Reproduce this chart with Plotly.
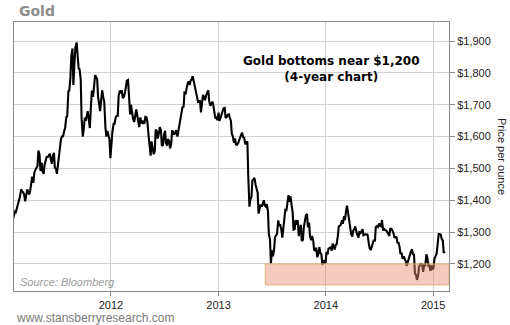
import pandas as pd
import plotly.graph_objects as go

# Gold spot price, USD per ounce, two readings a week (Tuesday, Friday),
# grouped by the year in which each week starts.
gold_2011 = [
    1338, 1350, 1364, 1362, 1375, 1388, 1400, 1410, 1434, 1430,
    1428, 1420, 1397, 1418, 1434, 1428, 1418, 1430,
    1453, 1474, 1455, 1486, 1496, 1504, 1508, 1556,
    1543, 1492, 1518, 1492, 1483, 1511, 1525, 1536, 1536, 1542,
    1546, 1529, 1515, 1539, 1549, 1502, 1499, 1483,
    1515, 1542, 1564, 1594, 1601, 1601, 1618, 1628,
    1661, 1663, 1742, 1744, 1786, 1853, 1877, 1762, 1835, 1880,
    1896, 1858, 1814, 1812, 1780, 1658, 1600, 1622,
    1660, 1650, 1672, 1680, 1650, 1627, 1700, 1745, 1725, 1755,
    1793, 1788, 1780, 1725, 1690, 1680, 1720, 1745,
    1722, 1710, 1630, 1600, 1618, 1605, 1590, 1532,
]
gold_2012 = [
    1600, 1617, 1640, 1640, 1660, 1665, 1665, 1728, 1745, 1740,
    1745, 1721, 1725, 1735, 1758, 1776, 1778, 1708,
    1670, 1700, 1672, 1657, 1646, 1662, 1685, 1669,
    1645, 1630, 1660, 1642, 1650, 1642, 1643, 1662, 1660, 1645,
    1602, 1580, 1540, 1585, 1568, 1545, 1555, 1622,
    1617, 1594, 1610, 1630, 1620, 1571, 1574, 1604,
    1618, 1580, 1572, 1593, 1585, 1563, 1577, 1620, 1614, 1606,
    1613, 1620, 1600, 1617, 1640, 1652, 1665, 1692,
    1694, 1738, 1736, 1756, 1768, 1773, 1762, 1776,
    1780, 1790, 1772, 1758, 1745, 1722, 1710, 1712, 1712, 1676,
    1715, 1731, 1723, 1714, 1731, 1740, 1745, 1712,
    1697, 1702, 1710, 1699, 1667, 1657, 1660, 1652,
]
gold_2013 = [
    1675, 1649, 1660, 1672, 1680, 1689, 1690, 1659, 1662, 1668,
    1670, 1660, 1649, 1609, 1600, 1581, 1594, 1576,
    1574, 1578, 1590, 1592, 1606, 1612, 1597, 1596,
    1576, 1580, 1585, 1477, 1380, 1403, 1411, 1462, 1469, 1470,
    1449, 1436, 1424, 1358, 1378, 1387, 1380, 1393,
    1400, 1384, 1380, 1388, 1366, 1295, 1276, 1202,
    1243, 1224, 1246, 1284, 1290, 1295, 1337, 1322, 1322, 1310,
    1283, 1313, 1335, 1370, 1369, 1396, 1416, 1395,
    1412, 1387, 1363, 1308, 1309, 1338, 1323, 1338, 1287, 1309,
    1323, 1272, 1275, 1315, 1339, 1352, 1357, 1315,
    1330, 1287, 1275, 1288, 1274, 1244, 1242, 1251,
    1221, 1230, 1253, 1235, 1230, 1197, 1205, 1212,
]
gold_2014 = [
    1202, 1238, 1230, 1248, 1250, 1254, 1242, 1264, 1255, 1245,
    1260, 1262, 1290, 1318, 1320, 1323, 1337, 1326,
    1350, 1338, 1368, 1383, 1359, 1334, 1310, 1294, 1286, 1304,
    1310, 1318, 1300, 1293, 1283, 1300, 1297, 1302,
    1309, 1290, 1293, 1293, 1293, 1292, 1265, 1250,
    1244, 1253, 1261, 1275, 1271, 1316, 1319, 1316, 1327, 1320,
    1318, 1338, 1305, 1310, 1306, 1306, 1300, 1293,
    1288, 1310, 1310, 1306, 1297, 1284, 1283, 1286,
    1265, 1268, 1253, 1231, 1235, 1216, 1224, 1217, 1208, 1194,
    1206, 1222, 1233, 1238, 1246, 1231, 1229, 1171,
    1165, 1150, 1163, 1190, 1198, 1200, 1196, 1175,
    1200, 1192, 1230, 1222, 1195, 1196, 1178, 1195, 1183, 1186,
]
gold_2015 = [
    1219, 1223, 1233, 1265, 1294, 1294, 1292, 1279, 1273, 1235,
    1239,
]

prices = gold_2011 + gold_2012 + gold_2013 + gold_2014 + gold_2015

first_monday = pd.Timestamp("2011-01-31")
dates = []
for week in range((len(prices) + 1) // 2):
    monday = first_monday + pd.Timedelta(weeks=week)
    dates.append(monday + pd.Timedelta(days=1))
    dates.append(monday + pd.Timedelta(days=4))
dates = dates[:len(prices)]

price_ticks = [1200, 1300, 1400, 1500, 1600, 1700, 1800, 1900]
price_labels = ["$1,200", "$1,300", "$1,400", "$1,500",
                "$1,600", "$1,700", "$1,800", "$1,900"]
year_ticks = ["2012-01-01", "2013-01-01", "2014-01-01", "2015-01-01"]
year_labels = ["2012", "2013", "2014", "2015"]

x_range = ["2011-02-05", "2015-02-24"]
y_range = [1115, 1960]

# support zone around $1,200
zone_start = "2013-06-09"
zone_low, zone_high = 1134, 1200

W, H = 510, 325
L, R, T, B = 14, 61, 22, 34
plot_w, plot_h = W - L - R, H - T - B


def px(x):
    return (x - L) / plot_w


def py(y):
    return (H - B - y) / plot_h


fig = go.Figure()
fig.add_trace(go.Scatter(
    x=dates, y=prices, mode="lines",
    line=dict(color="black", width=2.1),
    hoverinfo="skip",
))

fig.add_shape(
    type="rect", xref="x", yref="y",
    x0=zone_start, x1=x_range[1], y0=zone_low, y1=zone_high,
    fillcolor="rgba(230,140,110,0.45)",
    line=dict(color="#e0b27a", width=1),
    layer="above",
)

axis_common = dict(
    showgrid=True, gridcolor="#d2d2d2", gridwidth=1,
    showline=True, linecolor="#8a8a8a", linewidth=1, mirror=True,
    ticks="outside", tickcolor="#8a8a8a", zeroline=False,
    tickfont=dict(family="Liberation Sans, Arial", size=11, color="#222"),
)

fig.update_xaxes(
    type="date", range=x_range, tickvals=year_ticks, ticktext=year_labels,
    ticklen=4, **axis_common,
)
fig.update_yaxes(
    side="right", range=y_range, tickvals=price_ticks, ticktext=price_labels,
    ticklen=5, **axis_common,
)

annotations = [
    dict(x=px(17), y=py(11), xanchor="left", yanchor="middle",
         text="<b>Gold</b>",
         font=dict(family="DejaVu Sans", size=14, color="#8c8c8c")),
    dict(x=px(331), y=py(69.5), xanchor="center", yanchor="middle",
         align="center",
         text="<b>Gold bottoms near $1,200<br>(4-year chart)</b>",
         font=dict(family="DejaVu Sans", size=12, color="black")),
    dict(x=px(18), y=py(282), xanchor="left", yanchor="middle",
         text="<i>Source: Bloomberg</i>",
         font=dict(family="Liberation Sans, Arial", size=11, color="#9a9a9a")),
    dict(x=px(14), y=py(318), xanchor="left", yanchor="middle",
         text="www.stansberryresearch.com",
         font=dict(family="Liberation Sans, Arial", size=12, color="#7a7a7a")),
    dict(x=px(502), y=py(156), xanchor="center", yanchor="middle",
         textangle=90, text="Price per ounce",
         font=dict(family="Liberation Sans, Arial", size=11, color="#222")),
]
for a in annotations:
    a.update(xref="paper", yref="paper", showarrow=False)

fig.update_layout(
    width=W, height=H,
    margin=dict(l=L, r=R, t=T, b=B),
    paper_bgcolor="white", plot_bgcolor="white",
    showlegend=False,
    annotations=annotations,
)

fig.write_html("out.html")
